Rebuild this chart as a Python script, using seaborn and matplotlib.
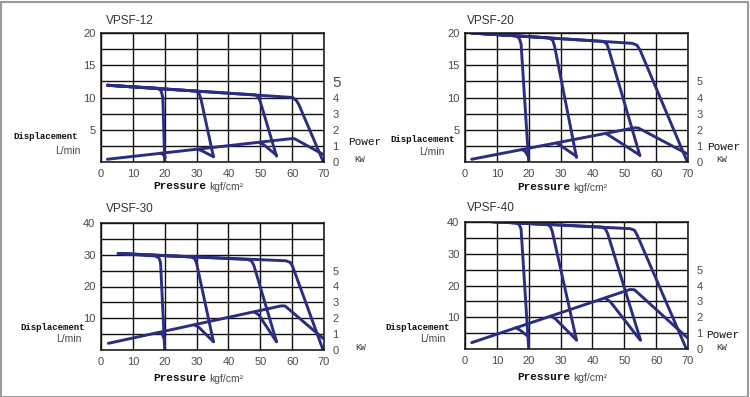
import matplotlib
matplotlib.use("Agg")
import matplotlib.pyplot as plt
import seaborn as sns
import pandas as pd
from matplotlib.patches import Rectangle

sns.set_theme(style="white")
plt.rcParams["font.family"] = ["Liberation Sans", "DejaVu Sans"]

# ---------------- data ----------------
pressure_ticks = [0, 10, 20, 30, 40, 50, 60, 70]
power_ticks = [0, 1, 2, 3, 4, 5]
titles = ["VPSF-12", "VPSF-20", "VPSF-30", "VPSF-40"]
flow_max = [20, 20, 40, 40]

# VPSF-12  (pressure kgf/cm2, flow L/min) / (pressure, power kW)
v12_flow_20 = [(2, 11.9), (17.8, 11.45), (18.9, 11.0), (19.4, 10.0), (20.0, 0.0)]
v12_flow_35 = [(2, 11.9), (29.8, 11.0), (30.8, 10.6), (31.4, 9.7), (35.3, 0.8)]
v12_flow_55 = [(2, 11.9), (48.5, 10.4), (49.5, 10.0), (50.1, 9.2), (55.1, 0.9)]
v12_flow_70 = [(2, 11.9), (60.2, 10.0), (61.4, 9.5), (62.2, 8.8), (69.8, 0.0)]
v12_power_main = [(2, 0.17), (59.8, 1.45), (60.8, 1.44), (70.2, 0.42)]
v12_power_20 = [(18.6, 0.55), (19.4, 0.48), (20.2, 0.31)]
v12_power_35 = [(30.4, 0.79), (31.6, 0.70), (35.3, 0.33)]
v12_power_55 = [(49.7, 1.21), (50.9, 1.10), (55.1, 0.42)]

# VPSF-20
v20_flow_20 = [(2, 20.0), (16.0, 19.55), (17.0, 19.2), (17.6, 18.3), (20.0, 0.0)]
v20_flow_35 = [(2, 20.0), (26.3, 19.25), (27.5, 18.9), (28.1, 18.0), (35.0, 0.7)]
v20_flow_55 = [(2, 20.0), (43.4, 18.7), (44.5, 18.3), (45.1, 17.5), (54.9, 1.0)]
v20_flow_70 = [(2, 20.0), (52.5, 18.4), (54.0, 18.1), (55.0, 17.3), (69.8, 0.0)]
v20_power_main = [(2.1, 0.17), (53.2, 2.12), (54.4, 2.11), (70.0, 0.48)]
v20_power_20 = [(17.9, 0.77), (18.9, 0.66), (20.0, 0.31)]
v20_power_35 = [(28.7, 1.17), (30.0, 1.02), (35.0, 0.35)]
v20_power_55 = [(44.4, 1.74), (45.8, 1.58), (54.9, 0.42)]

# VPSF-30
v30_flow_20 = [(5.4, 30.4), (17.0, 29.6), (18.2, 29.0), (18.7, 27.5), (20.0, 0.0)]
v30_flow_35 = [(5.4, 30.4), (28.3, 29.3), (29.4, 28.8), (30.0, 27.3), (35.3, 2.6)]
v30_flow_55 = [(5.4, 30.4), (46.1, 28.5), (47.3, 28.0), (48.0, 26.6), (55.1, 2.6)]
v30_flow_70 = [(5.4, 30.4), (58.0, 28.1), (59.4, 27.6), (60.2, 26.2), (69.7, 0.0)]
v30_power_main = [(2.3, 0.42), (56.6, 2.78), (57.8, 2.77), (70.3, 0.63)]
v30_power_20 = [(18.2, 1.11), (19.2, 1.0), (20.0, 0.64)]
v30_power_35 = [(29.3, 1.58), (30.6, 1.45), (35.3, 0.52)]
v30_power_55 = [(48.1, 2.39), (49.5, 2.22), (55.1, 0.52)]

# VPSF-40
v40_flow_20 = [(6.8, 40.2), (16.0, 39.7), (17.0, 39.2), (17.6, 37.8), (20.0, 0.0)]
v40_flow_35 = [(6.8, 40.2), (25.8, 39.2), (26.8, 38.6), (27.4, 37.0), (35.0, 2.8)]
v40_flow_55 = [(6.8, 40.2), (43.0, 38.4), (44.1, 37.8), (44.8, 36.3), (55.1, 2.8)]
v40_flow_70 = [(6.8, 40.2), (51.8, 37.9), (53.2, 37.4), (54.0, 36.0), (69.5, 0.0)]
v40_power_main = [(2.1, 0.40), (51.8, 3.75), (53.2, 3.73), (70.0, 0.67)]
v40_power_20 = [(16.0, 1.34), (17.2, 1.2), (19.9, 0.78)]
v40_power_35 = [(27.0, 2.07), (28.5, 1.88), (35.0, 0.56)]
v40_power_55 = [(44.0, 3.2), (45.6, 2.98), (55.0, 0.56)]

flows = [
    [v12_flow_20, v12_flow_35, v12_flow_55, v12_flow_70],
    [v20_flow_20, v20_flow_35, v20_flow_55, v20_flow_70],
    [v30_flow_20, v30_flow_35, v30_flow_55, v30_flow_70],
    [v40_flow_20, v40_flow_35, v40_flow_55, v40_flow_70],
]
powers = [
    [v12_power_main, v12_power_20, v12_power_35, v12_power_55],
    [v20_power_main, v20_power_20, v20_power_35, v20_power_55],
    [v30_power_main, v30_power_20, v30_power_35, v30_power_55],
    [v40_power_main, v40_power_20, v40_power_35, v40_power_55],
]


def to_df(curves):
    rows = []
    for i, c in enumerate(curves):
        for j, (x, y) in enumerate(c):
            rows.append({"curve": i, "order": j, "x": x, "y": y})
    return pd.DataFrame(rows)


# ---------------- layout ----------------
W, H = 750, 397
fig = plt.figure(figsize=(W / 100, H / 100), dpi=100)
fig.patch.set_facecolor("white")

LINE = "#2b2e80"
TICK_C = "#4a4a4a"

# axes boxes in pixels: left, top, right, bottom
boxes = [(101, 33, 324, 162), (465, 33, 688, 162),
         (101, 223, 324, 350), (465, 222, 688, 349)]


def fx(px):
    return px / W


def fy(py):
    return 1 - py / H


for k, (l, t, r, b) in enumerate(boxes):
    ax = fig.add_axes([fx(l), fy(b), fx(r) - fx(l), fy(t) - fy(b)])
    ymax = flow_max[k]
    step = ymax / 8
    ax.set_xlim(0, 70)
    ax.set_ylim(0, ymax)
    ax.set_xticks(pressure_ticks)
    ax.set_yticks([step * i for i in range(9)])
    ax.set_yticklabels(["" if (i % 2 == 1 or i == 0) else f"{int(step * i)}" for i in range(9)])
    ax.grid(True, color="#111111", linewidth=1.0)
    ax.set_axisbelow(True)
    for s in ax.spines.values():
        s.set_color("#111111")
        s.set_linewidth(1.1)
    ax.tick_params(axis="both", length=0, labelsize=8, colors=TICK_C, pad=5)
    ax.tick_params(axis="y", pad=4)

    ax2 = ax.twinx()
    ax2.set_ylim(0, 8)
    ax2.set_yticks(power_ticks)
    ax2.set_yticklabels([str(v) for v in power_ticks])
    ax2.tick_params(axis="y", length=0, labelsize=8, colors=TICK_C, pad=6)
    for s in ax2.spines.values():
        s.set_visible(False)
    ax2.grid(False)
    if k == 0:
        ax2.get_yticklabels()[5].set_fontsize(11)

    fdf = to_df(flows[k])
    sns.lineplot(data=fdf, x="x", y="y", units="curve", estimator=None, sort=False,
                 color=LINE, linewidth=2.1, ax=ax, solid_capstyle="round",
                 solid_joinstyle="round")
    pdf = to_df(powers[k])
    sns.lineplot(data=pdf, x="x", y="y", units="curve", estimator=None, sort=False,
                 color=LINE, linewidth=2.1, ax=ax2, solid_capstyle="round",
                 solid_joinstyle="round")
    ax.set_xlabel("")
    ax.set_ylabel("")
    ax2.set_xlabel("")
    ax2.set_ylabel("")

# ---------------- texts ----------------
MONO = ["Liberation Mono", "DejaVu Sans Mono"]


def txt(x, y, s, **kw):
    fig.text(fx(x), fy(y), s, va="center", ha="left", **kw)


title_pos = [(106, 21), (467, 21), (106, 209), (467, 208)]
disp_pos = [(13, 137), (390, 139), (20, 327), (385, 328)]
lmin_pos = [(55, 151), (419, 152), (56, 339), (420, 339)]
power_pos = [(348, 142), (707, 147), None, (706, 335)]
kw_pos = [(354, 159), (716, 160), (355, 347), (716, 347)]
press_pos = [(153, 186), (517, 187), (153, 378), (517, 377)]

for k in range(4):
    txt(*title_pos[k], titles[k], fontsize=8.5, color="#333333")
    txt(*disp_pos[k], "Displacement", fontsize=6.5, fontweight="bold", family=MONO, color="#111111")
    txt(*lmin_pos[k], "L/min", fontsize=7.5, color=TICK_C)
    if power_pos[k] is not None:
        txt(*power_pos[k], "Power", fontsize=8, family=MONO, color="#111111")
    txt(*kw_pos[k], "KW", fontsize=6.5, family=MONO, color="#333333")
    px, py = press_pos[k]
    txt(px, py, "Pressure", fontsize=8, fontweight="bold", family=MONO, color="#111111")
    txt(px + 56, py + 1, "kgf/cm²", fontsize=7.5, color=TICK_C)

fig.patches.append(Rectangle((0.5 / W, 0.5 / H), 1 - 2.5 / W, 1 - 2.5 / H,
                             transform=fig.transFigure, fill=False,
                             edgecolor="#9a9a9a", linewidth=1.5))

fig.savefig("out.png", dpi=100, facecolor="white")
